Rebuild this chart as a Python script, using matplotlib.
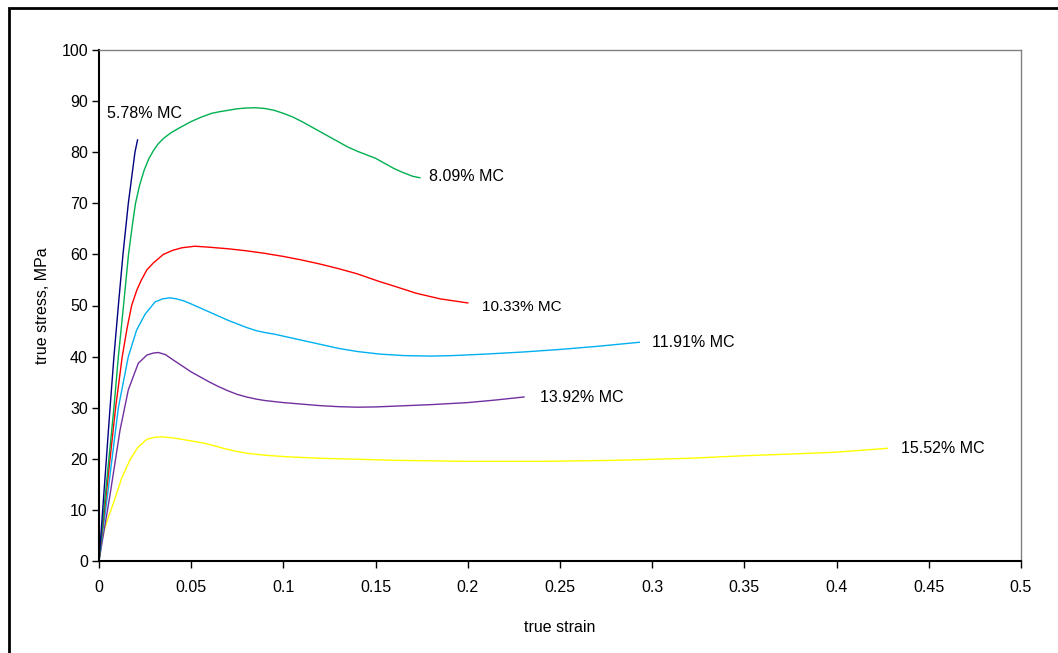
import matplotlib
matplotlib.use("Agg")
import matplotlib.pyplot as plt
from matplotlib.patches import Rectangle
from matplotlib.ticker import FuncFormatter

plt.rcParams['font.family'] = ['Liberation Sans', 'DejaVu Sans']

# stress-strain curves (strain, MPa)
mc578_x = [0, 0.003, 0.006, 0.0081, 0.0105, 0.013, 0.0159, 0.0195, 0.0209]
mc578_y = [0, 15, 30, 40, 50, 60, 70, 80, 82.4]

mc809_x = [0, 0.004, 0.0081, 0.0105, 0.0133, 0.016, 0.018, 0.0198, 0.022, 0.0245, 0.027, 0.0295,
           0.032, 0.035, 0.039, 0.0448, 0.05, 0.055, 0.061, 0.065, 0.07, 0.075, 0.08, 0.085, 0.09,
           0.095, 0.1, 0.105, 0.11, 0.115, 0.12, 0.125, 0.13, 0.135, 0.14, 0.145, 0.15, 0.155,
           0.16, 0.165, 0.17, 0.174]
mc809_y = [0, 15, 30, 40, 50, 60, 65.5, 70, 73.5, 76.5, 78.7, 80.3, 81.6, 82.7, 83.8, 85, 86, 86.8,
           87.6, 87.9, 88.2, 88.5, 88.65, 88.7, 88.55, 88.2, 87.6, 86.9, 86, 85, 84, 83, 82, 81,
           80.2, 79.5, 78.8, 77.8, 76.8, 76, 75.3, 75]

mc1033_x = [0, 0.0045, 0.009, 0.0126, 0.0152, 0.0177, 0.0205, 0.023, 0.026, 0.0294, 0.0349, 0.04,
            0.045, 0.052, 0.06, 0.07, 0.08, 0.09, 0.1, 0.11, 0.12, 0.13, 0.14, 0.152, 0.16, 0.172,
            0.185, 0.2]
mc1033_y = [0, 15, 30, 40, 45.5, 50, 53, 55, 57, 58.3, 60, 60.8, 61.3, 61.6, 61.4, 61.1, 60.7,
            60.2, 59.6, 58.9, 58.1, 57.2, 56.2, 54.7, 53.8, 52.4, 51.3, 50.5]

mc1191_x = [0, 0.005, 0.0105, 0.0159, 0.0204, 0.025, 0.0304, 0.0345, 0.0385, 0.042, 0.046, 0.05,
            0.055, 0.06, 0.065, 0.07, 0.075, 0.08, 0.085, 0.09, 0.095, 0.1, 0.11, 0.12, 0.13,
            0.14, 0.152, 0.165, 0.18, 0.192, 0.21, 0.23, 0.25, 0.27, 0.293]
mc1191_y = [0, 14, 30, 40, 45.2, 48.3, 50.7, 51.3, 51.5, 51.3, 50.9, 50.3, 49.5, 48.7, 47.9, 47.1,
            46.4, 45.7, 45.1, 44.7, 44.4, 44, 43.2, 42.4, 41.6, 41, 40.5, 40.2, 40.1, 40.2, 40.5,
            40.9, 41.4, 42, 42.8]

mc1392_x = [0, 0.006, 0.0114, 0.0159, 0.0213, 0.026, 0.0295, 0.0322, 0.036, 0.04, 0.045, 0.05,
            0.055, 0.06, 0.065, 0.07, 0.075, 0.08, 0.085, 0.09, 0.1, 0.11, 0.12, 0.13, 0.14, 0.15,
            0.16, 0.17, 0.18, 0.19, 0.2, 0.215, 0.2305]
mc1392_y = [0, 13, 25.6, 33.5, 38.7, 40.3, 40.7, 40.8, 40.4, 39.4, 38.2, 37, 36, 35, 34.1, 33.3,
            32.6, 32.1, 31.7, 31.4, 31, 30.7, 30.4, 30.2, 30.1, 30.15, 30.3, 30.45, 30.6, 30.8,
            31, 31.5, 32.1]

mc1552_x = [0, 0.0023, 0.005, 0.008, 0.0123, 0.0168, 0.021, 0.0259, 0.03, 0.034, 0.04, 0.045,
            0.05, 0.0565, 0.062, 0.068, 0.074, 0.08, 0.09, 0.1018, 0.12, 0.1415, 0.16, 0.18, 0.2,
            0.22, 0.24, 0.26, 0.28, 0.3, 0.32, 0.35, 0.38, 0.4, 0.4275]
mc1552_y = [1.5, 5.4, 8.5, 11.5, 16.2, 19.8, 22.2, 23.8, 24.2, 24.3, 24.1, 23.8, 23.5, 23.1, 22.6,
            22, 21.5, 21.1, 20.7, 20.4, 20.1, 19.9, 19.7, 19.6, 19.5, 19.5, 19.5, 19.6, 19.7, 19.9,
            20.1, 20.6, 21, 21.3, 22.05]

labels = ["5.78% MC", "8.09% MC", "10.33% MC", "11.91% MC", "13.92% MC", "15.52% MC"]
label_x = [0.0043, 0.179, 0.2077, 0.300, 0.239, 0.435]
label_y = [87.5, 75.2, 49.8, 42.8, 32.0, 22.0]
colors = ["#000080", "#00b050", "#ff0000", "#00b0f0", "#7030a0", "#ffff00"]

curves = [(mc578_x, mc578_y), (mc809_x, mc809_y), (mc1033_x, mc1033_y),
          (mc1191_x, mc1191_y), (mc1392_x, mc1392_y), (mc1552_x, mc1552_y)]

fig = plt.figure(figsize=(10.58, 6.53), dpi=100)
ax = fig.add_axes([99 / 1058, 1 - 561 / 653, (1021 - 99) / 1058, (561 - 50) / 653])

# draw the lowest-moisture curve last so it sits on top like the original
for (xs, ys), c in reversed(list(zip(curves, colors))):
    ax.plot(xs, ys, color=c, lw=1.0)

for t, tx, ty in zip(labels, label_x, label_y):
    fs = 11 if t.startswith("10.33") else 11.5
    ax.text(tx, ty, t, fontsize=fs, ha='left', va='center')

ax.set_xlim(0, 0.5)
ax.set_ylim(0, 100)
ax.set_xticks([i * 0.05 for i in range(11)])
ax.set_yticks(range(0, 101, 10))
ax.xaxis.set_major_formatter(FuncFormatter(lambda v, p: "%g" % round(v, 2)))
ax.tick_params(direction='out', length=5, width=1, labelsize=11.5)
ax.tick_params(axis='x', pad=9)
ax.tick_params(axis='y', pad=3)

for s in ['left', 'bottom']:
    ax.spines[s].set_color('black')
    ax.spines[s].set_linewidth(1.5)
for s in ['top', 'right']:
    ax.spines[s].set_color('#808080')
    ax.spines[s].set_linewidth(1.0)

ax.set_xlabel("true strain", fontsize=11.5, labelpad=18)
ax.set_ylabel("true stress, MPa", fontsize=11.5, labelpad=8)

# outer chart border (only left and top are inside the crop)
fig.patches.append(Rectangle((9 / 1058, -0.1), 1.2, 0.1 + 1 - 8 / 653, transform=fig.transFigure,
                             fill=False, edgecolor='black', lw=2))

fig.savefig("out.png", dpi=100)
